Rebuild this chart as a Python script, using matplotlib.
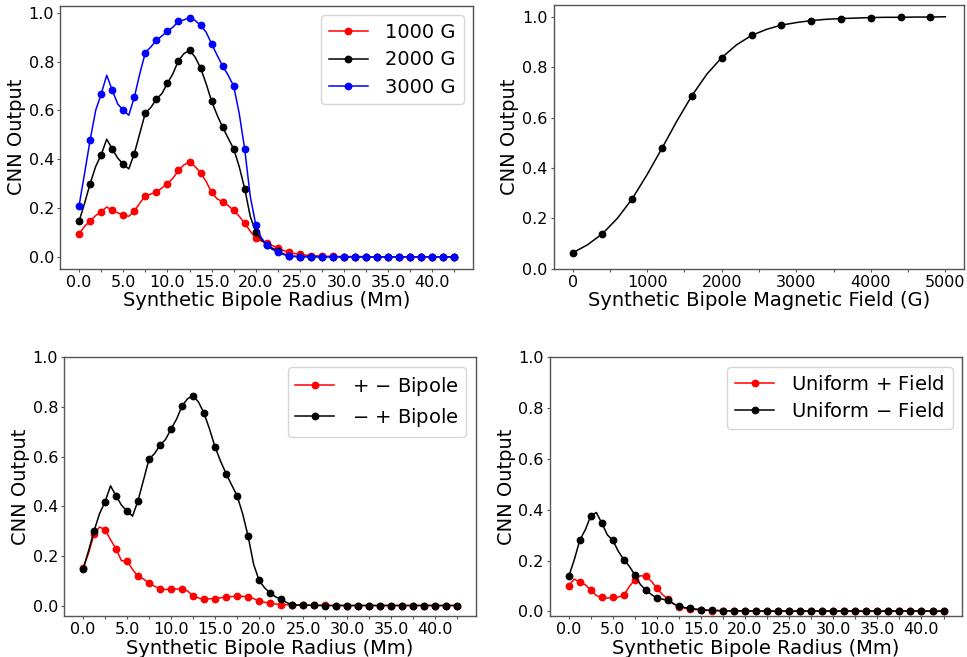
import numpy as np
import matplotlib
matplotlib.use("Agg")
import matplotlib.pyplot as plt

# ---------------- data ----------------
radius = np.round(np.arange(0, 42.5 + 1e-6, 0.625), 4)   # Mm (markers every 1.25 Mm)

g1000 = [0.094, 0.125, 0.146, 0.169, 0.184, 0.204, 0.190, 0.180, 0.171, 0.166,
         0.188, 0.220, 0.249, 0.257, 0.265, 0.282, 0.300, 0.322, 0.354, 0.377,
         0.389, 0.370, 0.344, 0.309, 0.264, 0.237, 0.226, 0.210, 0.190, 0.166,
         0.137, 0.105, 0.076, 0.064, 0.056, 0.046, 0.035, 0.026, 0.018, 0.013,
         0.010, 0.007, 0.005, 0.004, 0.003, 0.002, 0.002, 0.001, 0.001, 0.001,
         0.001, 0.001, 0.001, 0.000, 0.000, 0.000, 0.000, 0.000, 0.000, 0.000,
         0.000, 0.000, 0.000, 0.000, 0.000, 0.000, 0.000, 0.000, 0.000]

g2000 = [0.146, 0.220, 0.300, 0.370, 0.418, 0.482, 0.442, 0.404, 0.380, 0.360,
         0.423, 0.506, 0.590, 0.612, 0.646, 0.669, 0.711, 0.751, 0.804, 0.833,
         0.846, 0.819, 0.774, 0.710, 0.638, 0.581, 0.531, 0.486, 0.442, 0.370,
         0.279, 0.166, 0.101, 0.071, 0.050, 0.035, 0.025, 0.012, 0.003, 0.002,
         0.001, 0.001, 0.001, 0.000, 0.000, 0.000, 0.000, 0.000, 0.000, 0.000,
         0.000, 0.000, 0.000, 0.000, 0.000, 0.000, 0.000, 0.000, 0.000, 0.000,
         0.000, 0.000, 0.000, 0.000, 0.000, 0.000, 0.000, 0.000, 0.000]

g3000 = [0.210, 0.343, 0.479, 0.600, 0.667, 0.744, 0.683, 0.626, 0.601, 0.580,
         0.654, 0.751, 0.837, 0.860, 0.888, 0.905, 0.925, 0.941, 0.965, 0.971,
         0.980, 0.969, 0.948, 0.921, 0.873, 0.826, 0.782, 0.744, 0.700, 0.588,
         0.441, 0.248, 0.132, 0.078, 0.048, 0.030, 0.020, 0.010, 0.003, 0.001,
         0.000, 0.000, 0.000, 0.000, 0.000, 0.000, 0.000, 0.000, 0.000, 0.000,
         0.000, 0.000, 0.000, 0.000, 0.000, 0.000, 0.000, 0.000, 0.000, 0.000,
         0.000, 0.000, 0.000, 0.000, 0.000, 0.000, 0.000, 0.000, 0.000]

field = [0, 200, 400, 600, 800, 1000, 1200, 1400, 1600, 1800, 2000, 2200, 2400,
         2600, 2800, 3000, 3200, 3400, 3600, 3800, 4000, 4200, 4400, 4600, 4800, 5000]
field_out = [0.063, 0.095, 0.139, 0.200, 0.278, 0.374, 0.479, 0.587, 0.687, 0.772,
             0.838, 0.889, 0.926, 0.950, 0.967, 0.977, 0.985, 0.990, 0.993, 0.995,
             0.997, 0.998, 0.998, 0.999, 0.999, 1.000]

bipole_pos_neg = [0.150, 0.210, 0.288, 0.316, 0.306, 0.265, 0.228, 0.180, 0.180, 0.145,
                  0.117, 0.107, 0.090, 0.078, 0.067, 0.064, 0.068, 0.066, 0.068, 0.058,
                  0.040, 0.030, 0.025, 0.027, 0.028, 0.031, 0.034, 0.036, 0.038, 0.037,
                  0.035, 0.028, 0.017, 0.013, 0.010, 0.006, 0.004, 0.003, 0.002, 0.001,
                  0.001, 0.001, 0.001, 0.001, 0.001, 0.000, 0.000, 0.000, 0.000, 0.000,
                  0.000, 0.000, 0.000, 0.000, 0.000, 0.000, 0.000, 0.000, 0.000, 0.000,
                  0.000, 0.000, 0.000, 0.000, 0.000, 0.000, 0.000, 0.000, 0.000]

bipole_neg_pos = [0.146, 0.220, 0.300, 0.370, 0.418, 0.482, 0.442, 0.404, 0.380, 0.360,
                  0.423, 0.506, 0.590, 0.612, 0.646, 0.669, 0.711, 0.751, 0.804, 0.833,
                  0.846, 0.819, 0.774, 0.710, 0.638, 0.581, 0.531, 0.486, 0.442, 0.370,
                  0.279, 0.166, 0.101, 0.071, 0.050, 0.035, 0.025, 0.012, 0.003, 0.002,
                  0.001, 0.001, 0.001, 0.000, 0.000, 0.000, 0.000, 0.000, 0.000, 0.000,
                  0.000, 0.000, 0.000, 0.000, 0.000, 0.000, 0.000, 0.000, 0.000, 0.000,
                  0.000, 0.000, 0.000, 0.000, 0.000, 0.000, 0.000, 0.000, 0.000]

uniform_pos = [0.101, 0.127, 0.115, 0.105, 0.083, 0.062, 0.055, 0.052, 0.055, 0.056,
               0.064, 0.098, 0.125, 0.140, 0.138, 0.118, 0.090, 0.066, 0.048, 0.030,
               0.016, 0.013, 0.009, 0.007, 0.005, 0.004, 0.003, 0.003, 0.002, 0.002,
               0.002, 0.002, 0.002, 0.001, 0.001, 0.001, 0.001, 0.001, 0.001, 0.001,
               0.001, 0.001, 0.001, 0.001, 0.001, 0.001, 0.001, 0.001, 0.001, 0.001,
               0.001, 0.001, 0.001, 0.001, 0.001, 0.001, 0.001, 0.001, 0.001, 0.001,
               0.001, 0.001, 0.001, 0.001, 0.001, 0.001, 0.001, 0.001, 0.001]

uniform_neg = [0.138, 0.203, 0.280, 0.321, 0.376, 0.389, 0.347, 0.301, 0.279, 0.236,
               0.203, 0.177, 0.143, 0.105, 0.084, 0.066, 0.052, 0.048, 0.043, 0.030,
               0.020, 0.015, 0.012, 0.009, 0.007, 0.005, 0.004, 0.003, 0.003, 0.002,
               0.002, 0.002, 0.002, 0.001, 0.001, 0.001, 0.001, 0.001, 0.001, 0.001,
               0.001, 0.001, 0.001, 0.001, 0.001, 0.001, 0.001, 0.001, 0.001, 0.001,
               0.001, 0.001, 0.001, 0.001, 0.001, 0.001, 0.001, 0.001, 0.001, 0.001,
               0.001, 0.001, 0.001, 0.001, 0.001, 0.001, 0.001, 0.001, 0.001]

radius_ticks = [0.0, 2.5, 5.0, 7.5, 10.0, 12.5, 15.0, 17.5, 20.0, 22.5,
                25.0, 27.5, 30.0, 32.5, 35.0, 37.5, 40.0, 42.5]
radius_ticklabels = ["0.0", "", "5.0", "", "10.0", "", "15.0", "", "20.0", "",
                     "25.0", "", "30.0", "", "35.0", "", "40.0", ""]
field_ticks = [0, 500, 1000, 1500, 2000, 2500, 3000, 3500, 4000, 4500, 5000]
field_ticklabels = ["0", "", "1000", "", "2000", "", "3000", "", "4000", "", "5000"]

# ---------------- style ----------------
plt.rcParams['font.family'] = ['DejaVu Sans']
TICK_FS = 11.5
LABEL_FS = 14
LEG_FS = 14
MS = 4.6
LW = 1.1
SPINE_C = '#555555'

fig = plt.figure(figsize=(9.67, 6.57), dpi=100)
ax1 = fig.add_axes([0.0624, 0.591, 0.4270, 0.4003])
ax2 = fig.add_axes([0.5729, 0.591, 0.4240, 0.4014])
ax3 = fig.add_axes([0.0665, 0.0624, 0.4257, 0.3938])
ax4 = fig.add_axes([0.5688, 0.0624, 0.4263, 0.3938])


def style(ax, xlabel):
    ax.set_xlabel(xlabel, fontsize=LABEL_FS, labelpad=1)
    ax.set_ylabel("CNN Output", fontsize=LABEL_FS, labelpad=2)
    ax.tick_params(axis='both', labelsize=TICK_FS, length=2, width=0.8,
                   pad=2.5, color=SPINE_C)
    for s in ax.spines.values():
        s.set_color(SPINE_C)
        s.set_linewidth(1.0)


def leg(ax):
    ax.legend(fontsize=LEG_FS, loc='upper right', handlelength=2.0,
              handletextpad=0.9, labelspacing=0.42, borderaxespad=0.5)


# Panel 1
ax1.plot(radius, g1000, '-o', color='red', lw=LW, ms=MS, markevery=2, label="1000 G")
ax1.plot(radius, g2000, '-o', color='black', lw=LW, ms=MS, markevery=2, label="2000 G")
ax1.plot(radius, g3000, '-o', color='blue', lw=LW, ms=MS, markevery=2, label="3000 G")
ax1.set_xticks(radius_ticks)
ax1.set_xticklabels(radius_ticklabels)
ax1.set_yticks([0.0, 0.2, 0.4, 0.6, 0.8, 1.0])
style(ax1, "Synthetic Bipole Radius (Mm)")
leg(ax1)

# Panel 2
ax2.plot(field, field_out, '-o', color='black', lw=LW, ms=MS, markevery=2)
ax2.set_ylim(bottom=0)
ax2.set_xticks(field_ticks)
ax2.set_xticklabels(field_ticklabels)
ax2.set_yticks([0.0, 0.2, 0.4, 0.6, 0.8, 1.0])
style(ax2, "Synthetic Bipole Magnetic Field (G)")

# Panel 3
ax3.plot(radius, bipole_pos_neg, '-o', color='red', lw=LW, ms=MS, markevery=2,
         label=r"$+$ $-$ Bipole")
ax3.plot(radius, bipole_neg_pos, '-o', color='black', lw=LW, ms=MS, markevery=2,
         label=r"$-$ $+$ Bipole")
ax3.set_ylim(top=1.0)
ax3.set_xticks(radius_ticks)
ax3.set_xticklabels(radius_ticklabels)
ax3.set_yticks([0.0, 0.2, 0.4, 0.6, 0.8, 1.0])
style(ax3, "Synthetic Bipole Radius (Mm)")
leg(ax3)

# Panel 4
ax4.plot(radius, uniform_pos, '-o', color='red', lw=LW, ms=MS, markevery=2,
         label=r"Uniform $+$ Field")
ax4.plot(radius, uniform_neg, '-o', color='black', lw=LW, ms=MS, markevery=2,
         label=r"Uniform $-$ Field")
ax4.set_ylim(top=1.0)
ax4.set_xticks(radius_ticks)
ax4.set_xticklabels(radius_ticklabels)
ax4.set_yticks([0.0, 0.2, 0.4, 0.6, 0.8, 1.0])
style(ax4, "Synthetic Bipole Radius (Mm)")
leg(ax4)

fig.savefig("out.png", dpi=100)
